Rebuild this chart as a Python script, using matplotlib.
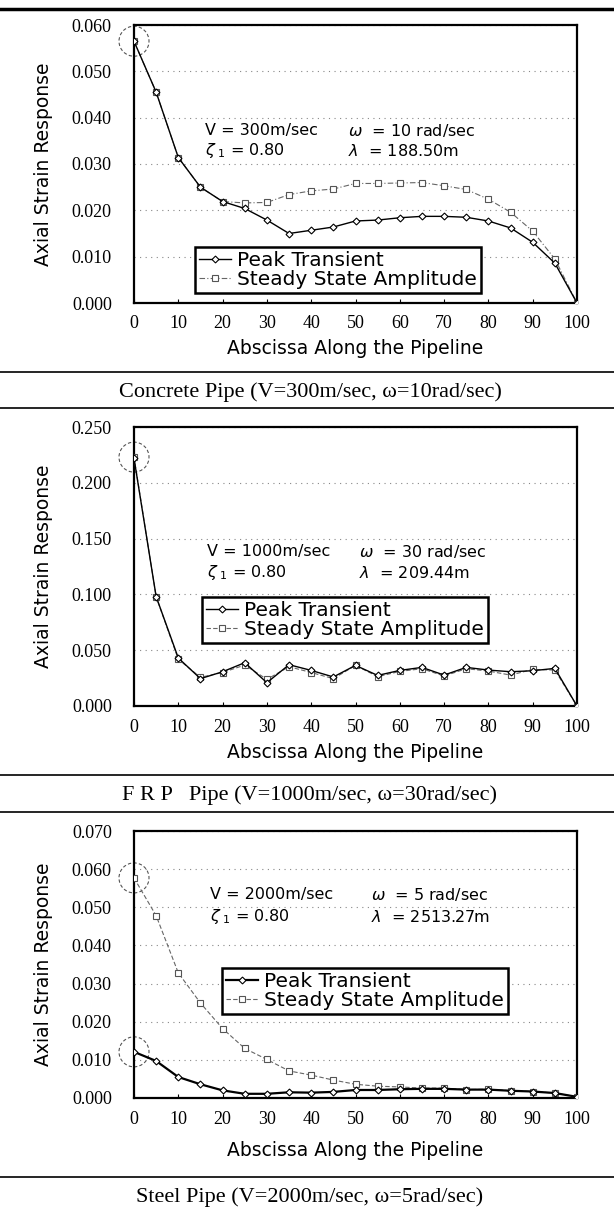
import numpy as np
import matplotlib.pyplot as plt
from matplotlib.lines import Line2D
from matplotlib.patches import Circle
from matplotlib.transforms import ScaledTranslation

plt.rcParams['font.family'] = ['DejaVu Sans']

# abscissa along the pipeline
x = np.arange(0, 101, 5)

# Concrete pipe
conc_peak = [0.0565, 0.0455, 0.0314, 0.0250, 0.0219, 0.0204, 0.0179, 0.0150, 0.0157, 0.0164, 0.0177,
             0.0179, 0.0184, 0.0187, 0.0187, 0.0185, 0.0177, 0.0162, 0.0131, 0.0086, 0.0]
conc_steady = [0.0565, 0.0455, 0.0314, 0.0250, 0.0219, 0.0216, 0.0217, 0.0234, 0.0242, 0.0246, 0.0258,
               0.0258, 0.0259, 0.0260, 0.0253, 0.0245, 0.0224, 0.0196, 0.0155, 0.0095, 0.0]

# FRP pipe
frp_peak = [0.222, 0.098, 0.043, 0.0245, 0.0307, 0.0388, 0.0209, 0.0370, 0.0319, 0.0260, 0.0364,
            0.0274, 0.0319, 0.0346, 0.0277, 0.0346, 0.0322, 0.0307, 0.0316, 0.0337, 0.0]
frp_steady = [0.223, 0.0979, 0.0418, 0.0257, 0.0300, 0.0367, 0.0239, 0.0352, 0.0300, 0.0245, 0.0364,
              0.0263, 0.0310, 0.0334, 0.0269, 0.0334, 0.0313, 0.0277, 0.0328, 0.0322, 0.0]

# Steel pipe
steel_peak = [0.0121, 0.0097, 0.0055, 0.0036, 0.0020, 0.0011, 0.0011, 0.0015, 0.0014, 0.0016, 0.0021,
              0.0021, 0.0023, 0.0024, 0.0024, 0.0022, 0.0022, 0.0019, 0.0017, 0.0013, 0.0003]
steel_steady = [0.0577, 0.0478, 0.0328, 0.0249, 0.0182, 0.0130, 0.0101, 0.0071, 0.0060, 0.0047, 0.0036,
                0.0031, 0.0029, 0.0026, 0.0026, 0.0022, 0.0023, 0.0019, 0.0017, 0.0013, 0.0003]

x_ticks = np.arange(0, 101, 10)
labels = ['Peak Transient', 'Steady State Amplitude']
tick_font = ['Liberation Serif', 'DejaVu Serif']

W, H = 614, 1210
fig = plt.figure(figsize=(W / 100, H / 100), dpi=100)


def ax_at(left, top, right, bottom):
    return fig.add_axes([left / W, 1 - bottom / H, (right - left) / W, (bottom - top) / H])


def hline(y, lw):
    fig.add_artist(Line2D([0, 1], [1 - y / H, 1 - y / H], color='black', lw=lw,
                          transform=fig.transFigure))


def draw(ax, peak, steady, ymax, ystep, info, circ_pts, leg_xy, peak_lw, steady_ls):
    ax.plot(x, steady, color='#666666', lw=0.8, ls=steady_ls, marker='s', ms=5,
            mfc='white', mec='#555555', mew=0.8, label=labels[1], zorder=3)
    ax.plot(x, peak, color='black', lw=peak_lw, marker='D', ms=3.5,
            mfc='white', mec='black', mew=0.8, label=labels[0], zorder=4)
    ax.set_xlim(0, 100)
    ax.set_ylim(0, ymax)
    yt = np.arange(0, ymax + ystep / 2, ystep)
    ax.set_yticks(yt, labels=['%.3f' % v for v in yt], fontsize=13, family=tick_font)
    ax.set_xticks(x_ticks, labels=[str(v) for v in x_ticks], fontsize=13, family=tick_font)
    ax.tick_params(axis='y', length=0, pad=16)
    ax.tick_params(axis='x', direction='in', length=3, pad=9)
    ax.grid(axis='y', color='#888888', lw=0.8, ls=(0, (1, 4)))
    for s in ax.spines.values():
        s.set_linewidth(1.6)
    for (tx, ty, s) in info:
        ax.text(tx, ty, s, transform=ax.transAxes, fontsize=11.5, va='center')
    for (cx, cy) in circ_pts:
        c = Circle((0, 0), radius=0.15, fill=False, ls=(0, (3, 2)), lw=0.8, ec='#555555',
                   transform=fig.dpi_scale_trans + ScaledTranslation(cx, cy, ax.transData),
                   clip_on=False)
        ax.add_patch(c)
    h, l = ax.get_legend_handles_labels()
    leg = ax.legend(h[::-1], l[::-1], loc='upper left', bbox_to_anchor=leg_xy, borderaxespad=0,
                    fontsize=14.5, handlelength=1.6, handletextpad=0.3, labelspacing=0.0,
                    borderpad=0.2, fancybox=False, framealpha=1, edgecolor='black')
    leg.get_frame().set_linewidth(1.8)


ax1 = ax_at(134, 25, 577, 303)
draw(ax1, conc_peak, conc_steady, 0.060, 0.010,
     [(0.16, 0.62, 'V = 300m/sec'), (0.483, 0.62, r'$\omega$  = 10 rad/sec'),
      (0.16, 0.547, r'$\zeta_{\ 1}$ = 0.80'), (0.483, 0.547, r'$\lambda$  = 188.50m')],
     [(0, conc_peak[0])], (0.138, 0.201), 1.0, (0, (5, 2, 1, 2)))

ax2 = ax_at(134, 427, 577, 706)
draw(ax2, frp_peak, frp_steady, 0.250, 0.050,
     [(0.165, 0.552, 'V = 1000m/sec'), (0.508, 0.552, r'$\omega$  = 30 rad/sec'),
      (0.165, 0.477, r'$\zeta_{\ 1}$ = 0.80'), (0.508, 0.477, r'$\lambda$  = 209.44m')],
     [(0, frp_steady[0])], (0.153, 0.391), 1.0, (0, (4, 2)))

ax3 = ax_at(134, 831, 577, 1098)
draw(ax3, steel_peak, steel_steady, 0.070, 0.010,
     [(0.172, 0.764, 'V = 2000m/sec'), (0.535, 0.764, r'$\omega$  = 5 rad/sec'),
      (0.172, 0.678, r'$\zeta_{\ 1}$ = 0.80'), (0.535, 0.678, r'$\lambda$  = 2513.27m')],
     [(0, steel_steady[0]), (0, steel_peak[0])], (0.199, 0.487), 1.6, (0, (4, 2)))

# axis titles and captions
for top, bot, xl_y, cap_y, cap in [
        (25, 303, 349, 392, 'Concrete Pipe (V=300m/sec, \u03c9=10rad/sec)'),
        (427, 706, 753, 795, 'F R P   Pipe (V=1000m/sec, \u03c9=30rad/sec)'),
        (831, 1098, 1151, 1197, 'Steel Pipe (V=2000m/sec, \u03c9=5rad/sec)')]:
    fig.text(44 / W, 1 - (top + bot) / 2 / H, 'Axial Strain Response', rotation=90,
             ha='center', va='center', fontsize=13.5)
    fig.text(355 / W, 1 - xl_y / H, 'Abscissa Along the Pipeline', ha='center', va='center',
             fontsize=13.5)
    fig.text(310 / W, 1 - cap_y / H, cap, ha='center', va='center', fontsize=16,
             family=['Liberation Serif', 'DejaVu Serif'])

hline(9, 2.5)
for y in [372, 408, 775, 812, 1177]:
    hline(y, 1.2)

fig.savefig('out.png', dpi=100)
